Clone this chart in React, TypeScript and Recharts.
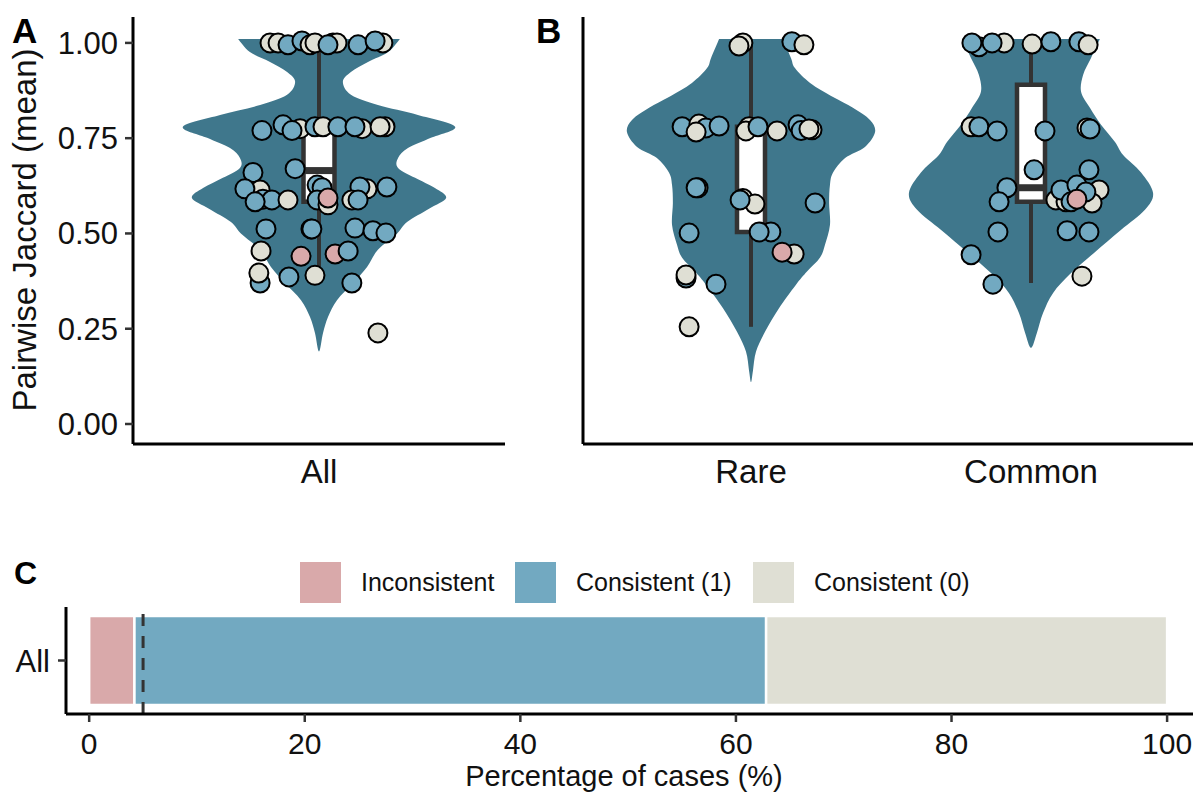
import React from 'react';
import { ScatterChart, Scatter, XAxis, YAxis, BarChart, Bar, ReferenceLine } from 'recharts';

// ---------- colours ----------
const BLUE = '#72a9c1';
const BEIGE = '#dfdfd4';
const PINK = '#d9a9aa';
const VIOLIN = '#3f778c';
const DARK = '#333333';
const GROUP_FILL: Record<string, string> = { b: BLUE, c: BEIGE, p: PINK };

// ---------- panel A / B : categories ----------
const catA = ['All'];
const catB = ['Rare', 'Common'];
const yTicks = [0, 0.25, 0.5, 0.75, 1];

// ---------- violin outlines (value, half-width in category units) ----------
const violinAllY = [1.01, 0.976, 0.95, 0.924, 0.898, 0.864, 0.837, 0.811, 0.78, 0.751, 0.724, 0.698, 0.672, 0.646, 0.619, 0.593, 0.565, 0.53, 0.5, 0.457, 0.412, 0.37, 0.325, 0.281, 0.239, 0.19];
const violinAllW = [0.261, 0.223, 0.158, 0.103, 0.077, 0.103, 0.19, 0.319, 0.439, 0.361, 0.287, 0.255, 0.255, 0.31, 0.374, 0.41, 0.355, 0.284, 0.252, 0.19, 0.155, 0.11, 0.058, 0.029, 0.013, 0];

const violinRareY = [1.01, 0.96, 0.934, 0.895, 0.858, 0.83, 0.798, 0.766, 0.727, 0.698, 0.66, 0.627, 0.58, 0.522, 0.47, 0.436, 0.4, 0.365, 0.304, 0.242, 0.19, 0.14, 0.11];
const violinRareW = [0.114, 0.143, 0.157, 0.211, 0.293, 0.364, 0.425, 0.443, 0.407, 0.336, 0.293, 0.282, 0.279, 0.282, 0.264, 0.246, 0.2, 0.16, 0.1, 0.05, 0.018, 0.007, 0];

const violinCommonY = [1.01, 0.96, 0.916, 0.871, 0.829, 0.785, 0.74, 0.706, 0.66, 0.606, 0.562, 0.509, 0.449, 0.396, 0.344, 0.291, 0.239, 0.2];
const violinCommonW = [0.246, 0.214, 0.186, 0.179, 0.211, 0.25, 0.3, 0.329, 0.393, 0.436, 0.407, 0.321, 0.225, 0.143, 0.079, 0.043, 0.021, 0];

// ---------- box plot statistics [q1, median, q3, lowerWhisker, upperWhisker] ----------
const boxAll = [0.583, 0.665, 0.78, 0.37, 1.0];
const boxRare = [0.504, 0.775, 0.78, 0.255, 1.0];
const boxCommon = [0.583, 0.62, 0.89, 0.37, 1.0];

// ---------- jittered points [x position, value, group] b=Consistent(1) c=Consistent(0) p=Inconsistent ----------
type Pt = [number, number, string];
const pointsAll: Pt[] = [
  [0.842, 1.0, 'c'], [0.868, 1.0, 'c'], [0.9, 0.995, 'b'], [0.945, 1.005, 'b'], [0.971, 0.995, 'c'], [0.987, 1.0, 'c'],
  [1.045, 1.0, 'b'], [1.058, 1.0, 'c'], [1.029, 0.995, 'b'], [1.126, 0.995, 'b'], [1.206, 1.0, 'c'], [1.181, 1.005, 'b'],
  [0.816, 0.77, 'b'], [0.884, 0.785, 'b'], [0.939, 0.775, 'c'], [0.913, 0.77, 'b'], [0.987, 0.78, 'b'], [1.013, 0.78, 'c'],
  [1.061, 0.78, 'b'], [1.139, 0.775, 'c'], [1.116, 0.78, 'b'], [1.213, 0.78, 'c'], [1.197, 0.78, 'c'],
  [0.787, 0.66, 'b'], [0.923, 0.67, 'b'], [0.81, 0.614, 'c'], [0.761, 0.617, 'b'], [0.819, 0.59, 'b'], [0.848, 0.588, 'b'],
  [0.794, 0.583, 'b'], [0.9, 0.588, 'c'], [0.994, 0.627, 'b'], [1.01, 0.62, 'b'], [0.994, 0.588, 'b'], [1.029, 0.575, 'c'],
  [1.029, 0.593, 'p'], [1.155, 0.617, 'c'], [1.132, 0.622, 'b'], [1.106, 0.588, 'c'], [1.126, 0.588, 'b'], [1.219, 0.622, 'b'],
  [0.829, 0.512, 'b'], [0.974, 0.512, 'b'], [0.977, 0.512, 'b'], [1.116, 0.514, 'b'], [1.174, 0.507, 'b'], [1.216, 0.501, 'b'],
  [0.813, 0.454, 'c'], [0.942, 0.44, 'p'], [1.052, 0.446, 'p'], [1.094, 0.454, 'b'],
  [0.81, 0.37, 'b'], [0.806, 0.396, 'c'], [0.903, 0.386, 'b'], [0.987, 0.39, 'c'], [1.106, 0.37, 'b'], [1.19, 0.239, 'c'],
];
const pointsRare: Pt[] = [
  [0.971, 1.0, 'c'], [0.957, 0.992, 'c'], [1.146, 1.003, 'b'], [1.189, 0.995, 'c'],
  [0.754, 0.78, 'b'], [0.814, 0.787, 'c'], [0.839, 0.777, 'b'], [0.804, 0.766, 'c'], [0.886, 0.782, 'b'], [0.993, 0.78, 'c'],
  [0.982, 0.769, 'c'], [1.025, 0.78, 'b'], [1.093, 0.769, 'c'], [1.168, 0.785, 'b'], [1.179, 0.77, 'b'], [1.218, 0.772, 'c'], [1.207, 0.774, 'c'],
  [0.811, 0.62, 'c'], [0.804, 0.62, 'b'], [0.971, 0.592, 'c'], [1.014, 0.577, 'c'], [0.961, 0.588, 'b'], [1.229, 0.58, 'b'],
  [0.779, 0.501, 'b'], [1.071, 0.504, 'b'], [1.029, 0.504, 'b'],
  [1.154, 0.446, 'c'], [1.111, 0.451, 'p'],
  [0.768, 0.383, 'b'], [0.768, 0.391, 'c'], [0.875, 0.367, 'b'], [0.779, 0.255, 'c'],
];
const pointsCommon: Pt[] = [
  [1.814, 0.99, 'b'], [1.789, 1.0, 'b'], [1.904, 1.0, 'c'], [1.861, 1.0, 'b'], [2.004, 0.997, 'c'], [2.071, 1.003, 'b'], [2.171, 1.003, 'b'], [2.204, 0.995, 'c'],
  [1.786, 0.78, 'c'], [1.814, 0.78, 'b'], [1.879, 0.769, 'b'], [2.05, 0.769, 'b'], [2.2, 0.777, 'c'], [2.211, 0.774, 'b'],
  [2.011, 0.667, 'b'], [2.207, 0.667, 'b'], [1.914, 0.62, 'b'], [1.886, 0.583, 'b'],
  [2.089, 0.588, 'c'], [2.243, 0.614, 'c'], [2.218, 0.58, 'c'], [2.125, 0.583, 'c'], [2.107, 0.614, 'b'], [2.164, 0.627, 'b'],
  [2.196, 0.609, 'b'], [2.143, 0.583, 'b'], [2.164, 0.59, 'p'],
  [1.882, 0.504, 'b'], [2.129, 0.507, 'b'], [2.207, 0.504, 'b'],
  [1.786, 0.444, 'b'], [2.182, 0.388, 'c'], [1.864, 0.367, 'b'],
];

// ---------- panel C ----------
const categoriesC = ['All'];
const inconsistentPct = [4.2];
const consistent1Pct = [58.6];
const consistent0Pct = [37.2];
const thresholdPct = 5;
const xTicksC = [0, 20, 40, 60, 80, 100];
const legendLabels = ['Inconsistent', 'Consistent (1)', 'Consistent (0)'];
const legendColors = [PINK, BLUE, BEIGE];

const barData = categoriesC.map((name, i) => ({
  name,
  inconsistent: inconsistentPct[i],
  consistent1: consistent1Pct[i],
  consistent0: consistent0Pct[i],
}));

// ---------- helpers ----------
const BOX_HALF = 0.05;

function violinOutline(center: number, ys: number[], ws: number[]) {
  const right = ys.map((y, i) => ({ x: center + ws[i], y }));
  const left = ys.map((y, i) => ({ x: center - ws[i], y })).reverse();
  return [...right, ...left.slice(1)];
}

function smoothPath(pts: { x: number; y: number }[]) {
  if (!pts || pts.length < 2) return '';
  let d = `M${pts[0].x},${pts[0].y}`;
  for (let i = 0; i < pts.length - 1; i++) {
    const p0 = pts[i - 1] || pts[i];
    const p1 = pts[i];
    const p2 = pts[i + 1];
    const p3 = pts[i + 2] || p2;
    const c1x = p1.x + (p2.x - p0.x) / 6;
    const c1y = p1.y + (p2.y - p0.y) / 6;
    const c2x = p2.x - (p3.x - p1.x) / 6;
    const c2y = p2.y - (p3.y - p1.y) / 6;
    d += `C${c1x},${c1y} ${c2x},${c2y} ${p2.x},${p2.y}`;
  }
  return d + 'Z';
}

const noShape = () => <g />;

const violinLine = (props: any) => <path d={smoothPath(props.points)} fill={VIOLIN} stroke="none" />;

const polyLine = (fill: string, stroke: string, sw: number, closed: boolean) => (props: any) => {
  const p = props.points || [];
  const d = p.map((q: any, i: number) => `${i ? 'L' : 'M'}${q.x},${q.y}`).join('') + (closed ? 'Z' : '');
  return <path d={d} fill={fill} stroke={stroke} strokeWidth={sw} strokeLinejoin="miter" />;
};

const dotShape = (props: any) => (
  <circle cx={props.cx} cy={props.cy} r={9.5} fill={GROUP_FILL[props.payload.g]} stroke="#000" strokeWidth={2} />
);

function violinSeries(key: string, center: number, ys: number[], ws: number[]) {
  return (
    <Scatter key={key} data={violinOutline(center, ys, ws)} shape={noShape} line={violinLine} isAnimationActive={false} />
  );
}

function boxSeries(key: string, c: number, s: number[]) {
  const [q1, med, q3, lo, hi] = s;
  return [
    <Scatter key={key + 'wu'} data={[{ x: c, y: q3 }, { x: c, y: hi }]} shape={noShape} line={polyLine('none', DARK, 4, false)} isAnimationActive={false} />,
    <Scatter key={key + 'wl'} data={[{ x: c, y: q1 }, { x: c, y: lo }]} shape={noShape} line={polyLine('none', DARK, 4, false)} isAnimationActive={false} />,
    <Scatter
      key={key + 'bx'}
      data={[{ x: c - BOX_HALF, y: q1 }, { x: c + BOX_HALF, y: q1 }, { x: c + BOX_HALF, y: q3 }, { x: c - BOX_HALF, y: q3 }]}
      shape={noShape}
      line={polyLine('#ffffff', DARK, 4.5, true)}
      isAnimationActive={false}
    />,
    <Scatter key={key + 'md'} data={[{ x: c - BOX_HALF, y: med }, { x: c + BOX_HALF, y: med }]} shape={noShape} line={polyLine('none', DARK, 7, false)} isAnimationActive={false} />,
  ];
}

function pointSeries(key: string, pts: Pt[]) {
  return (
    <Scatter key={key} data={pts.map(([x, y, g]) => ({ x, y, g }))} shape={dotShape} isAnimationActive={false} />
  );
}

const TXT = '#111111';
const axisLine = { stroke: '#000', strokeWidth: 3 };
const tickLine = { stroke: DARK, strokeWidth: 2.5 };

export default function App() {
  return (
    <div
      style={{
        position: 'absolute', left: 0, top: 0, width: 1193, height: 796, overflow: 'hidden', background: '#fff',
        fontFamily: '"Liberation Sans", Arial, sans-serif',
      }}
    >
      {/* Panel A */}
      <div style={{ position: 'absolute', left: 0, top: 0 }}>
        <ScatterChart width={510} height={500} margin={{ top: 17, right: 5, bottom: 0, left: 0 }}>
          <XAxis
            type="number" dataKey="x" domain={[0.4, 1.6]} allowDataOverflow ticks={[1]}
            tickFormatter={(v: number) => catA[Math.round(v) - 1]} height={56}
            axisLine={axisLine} tickLine={false} tickSize={0} tickMargin={16}
            tick={{ fontSize: 33, fill: TXT }}
          />
          <YAxis
            type="number" dataKey="y" domain={[-0.0525, 1.068]} allowDataOverflow ticks={yTicks}
            tickFormatter={(v: number) => v.toFixed(2)} width={133}
            axisLine={axisLine} tickLine={tickLine} tickSize={8} tickMargin={7}
            tick={{ fontSize: 31, fill: TXT }}
          />
          {violinSeries('vA', 1, violinAllY, violinAllW)}
          {boxSeries('bA', 1, boxAll)}
          {pointSeries('pA', pointsAll)}
        </ScatterChart>
      </div>

      {/* Panel B */}
      <div style={{ position: 'absolute', left: 560, top: 0 }}>
        <ScatterChart width={639} height={500} margin={{ top: 17, right: 0, bottom: 0, left: 0 }}>
          <XAxis
            type="number" dataKey="x" domain={[0.4, 2.6]} allowDataOverflow ticks={[1, 2]}
            tickFormatter={(v: number) => catB[Math.round(v) - 1]} height={56}
            axisLine={axisLine} tickLine={false} tickSize={0} tickMargin={16}
            tick={{ fontSize: 33, fill: TXT }} interval={0}
          />
          <YAxis
            type="number" dataKey="y" domain={[-0.0525, 1.068]} allowDataOverflow ticks={yTicks}
            width={23} axisLine={axisLine} tickLine={false} tick={false}
          />
          {violinSeries('vR', 1, violinRareY, violinRareW)}
          {violinSeries('vC', 2, violinCommonY, violinCommonW)}
          {boxSeries('bR', 1, boxRare)}
          {boxSeries('bC', 2, boxCommon)}
          {pointSeries('pR', pointsRare)}
          {pointSeries('pC', pointsCommon)}
        </ScatterChart>
      </div>

      {/* Panel C */}
      <div style={{ position: 'absolute', left: 0, top: 560 }}>
        <BarChart layout="vertical" width={1221} height={236} data={barData} margin={{ top: 47, right: 0, bottom: 0, left: 0 }} barSize={89}>
          <XAxis
            type="number" domain={[-2.15, 105]} allowDataOverflow ticks={xTicksC} interval={0} height={82}
            axisLine={axisLine} tickLine={tickLine} tickSize={8} tickMargin={11}
            tick={{ fontSize: 30, fill: TXT }}
          />
          <YAxis
            type="category" dataKey="name" width={66}
            axisLine={axisLine} tickLine={tickLine} tickSize={8} tickMargin={8}
            tick={{ fontSize: 31, fill: TXT }}
          />
          <Bar dataKey="inconsistent" stackId="s" fill={PINK} stroke="#fff" strokeWidth={2.5} isAnimationActive={false} />
          <Bar dataKey="consistent1" stackId="s" fill={BLUE} stroke="#fff" strokeWidth={2.5} isAnimationActive={false} />
          <Bar dataKey="consistent0" stackId="s" fill={BEIGE} stroke="#fff" strokeWidth={2.5} isAnimationActive={false} />
          <ReferenceLine x={thresholdPct} stroke={DARK} strokeWidth={3} strokeDasharray="12 10" />
        </BarChart>
      </div>

      {/* text overlay: panel tags, titles, legend */}
      <svg width={1193} height={796} style={{ position: 'absolute', left: 0, top: 0, pointerEvents: 'none' }}>
        <text x={12} y={43} fontSize={35} fontWeight="bold" fill="#000">A</text>
        <text x={536} y={43} fontSize={35} fontWeight="bold" fill="#000">B</text>
        <text x={14} y={584} fontSize={32} fontWeight="bold" fill="#000">C</text>
        <text x={36} y={230} transform="rotate(-90 36 230)" textAnchor="middle" fontSize={33} fill={TXT}>
          Pairwise Jaccard (mean)
        </text>
        <text x={624} y={786} textAnchor="middle" fontSize={29} fill={TXT}>Percentage of cases (%)</text>
        {legendLabels.map((lab, i) => {
          const lx = [300, 515, 753][i];
          return (
            <g key={lab}>
              <rect x={lx} y={562} width={41} height={41} fill={legendColors[i]} />
              <text x={lx + 61} y={591} fontSize={25} fill={TXT}>{lab}</text>
            </g>
          );
        })}
      </svg>
    </div>
  );
}
